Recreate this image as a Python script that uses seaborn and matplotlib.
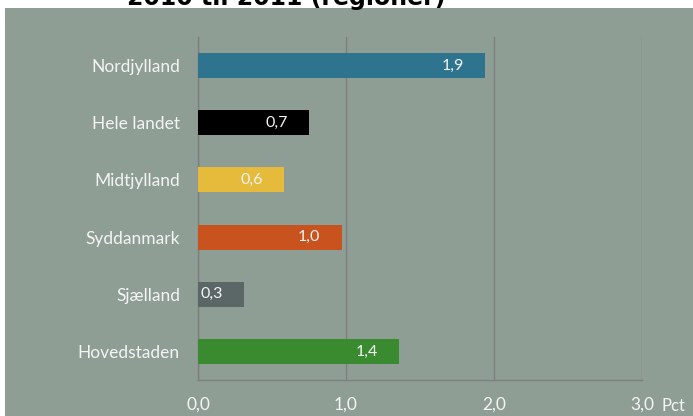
import matplotlib
matplotlib.use("Agg")
import matplotlib.pyplot as plt
import pandas as pd
import seaborn as sns

# Data aflaest fra figuren
regioner = ["Nordjylland", "Hele landet", "Midtjylland", "Syddanmark", "Sjælland", "Hovedstaden"]
vaerdier = [1.94, 0.75, 0.58, 0.97, 0.31, 1.36]
etiketter = ["1,9", "0,7", "0,6", "1,0", "0,3", "1,4"]
farver = ["#2e748e", "#000000", "#e6bb3c", "#c9531f", "#5b6766", "#3a8a2f"]
x_ticks = [0, 1, 2, 3]
x_tick_labels = ["0,0", "1,0", "2,0", "3,0"]
titel = "2010 til 2011 (regioner)"

bg = "#8f9e95"
grid_col = "#7d7f7c"
txt_col = "#f4f4f4"

sns.set_style("white")
plt.rcParams["font.family"] = ["Lato", "DejaVu Sans"]

df = pd.DataFrame({"region": regioner, "vaerdi": vaerdier})

fig = plt.figure(figsize=(6.93, 4.16), dpi=100, facecolor="white")
W, H = 693, 416

# graa baggrund for hele diagramomraadet
bg_ax = fig.add_axes([5 / W, 0, 1 - 5 / W, 1 - 8 / H], zorder=-1)
bg_ax.set_facecolor(bg)
bg_ax.set_xticks([])
bg_ax.set_yticks([])
for s in bg_ax.spines.values():
    s.set_visible(False)

ax = fig.add_axes([198 / W, (H - 380) / H, (642 - 198) / W, (380 - 37) / H])
ax.set_facecolor(bg)

sns.barplot(data=df, x="vaerdi", y="region", hue="region", palette=farver,
            legend=False, width=0.44, ax=ax, saturation=1, linewidth=0, zorder=3)

ax.set_xlim(0, 3)
ax.set_ylim(5.5, -0.5)
ax.set_xticks(x_ticks)
ax.set_xticklabels(x_tick_labels, color=txt_col, fontsize=12.5)
ax.tick_params(axis="x", length=0, pad=12)
ax.tick_params(axis="y", length=0, pad=13, labelsize=12.5, labelcolor=txt_col)
ax.set_xlabel("")
ax.set_ylabel("")
ax.xaxis.grid(True, color=grid_col, linewidth=1)
ax.set_axisbelow(True)
for s in ["top", "right"]:
    ax.spines[s].set_visible(False)
for s in ["left", "bottom"]:
    ax.spines[s].set_color(grid_col)
    ax.spines[s].set_linewidth(1)

for i, (v, lab) in enumerate(zip(vaerdier, etiketter)):
    ax.text(v - 0.22, i, lab, ha="center", va="center", color=txt_col, fontsize=11.5, zorder=4)

fig.text(673 / W, (H - 406) / H, "Pct", color=txt_col, fontsize=12, ha="center", va="center")

fig.text(127 / W, 1 - 5 / H, titel, fontsize=17, fontweight="bold", color="black",
         ha="left", va="baseline", family="DejaVu Sans")

fig.savefig("out.png", dpi=100, facecolor=fig.get_facecolor())
